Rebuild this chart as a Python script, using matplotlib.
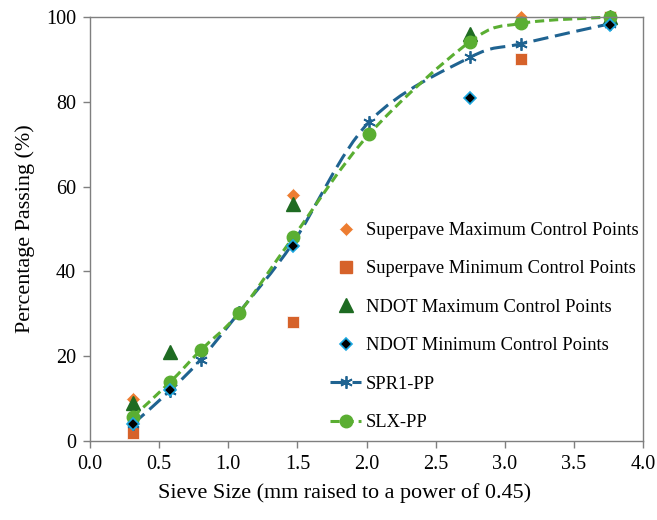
#!/usr/bin/env python3
"""
Gradation chart: percentage passing vs sieve size (mm^0.45) with
Superpave / NDOT control points and two smoothed mix gradations.
"""
import matplotlib
matplotlib.use("Agg")
import matplotlib.pyplot as plt
from matplotlib.lines import Line2D
from matplotlib.path import Path
from matplotlib.patches import PathPatch

plt.rcParams.update({
    "font.family": ["Liberation Serif", "DejaVu Serif"],
    "font.size": 14,
    "axes.linewidth": 1.0,
})

# ---- data ----
sp_max_x = [0.31, 1.47, 3.12, 3.76]
sp_max_y = [10, 58, 100, 100]
sp_min_x = [0.31, 1.47, 3.12, 3.76]
sp_min_y = [2, 28, 90, 100]
ndot_max_x = [0.31, 0.58, 1.47, 2.75, 3.76]
ndot_max_y = [9, 21, 56, 96, 100]
ndot_min_x = [0.31, 0.58, 1.47, 2.75, 3.76]
ndot_min_y = [4, 12, 46, 81, 98]
sieve_x = [0.31, 0.58, 0.80, 1.08, 1.47, 2.02, 2.75, 3.12, 3.76]
spr1_y = [4.0, 11.9, 19.2, 30.4, 46.8, 75.3, 90.5, 93.7, 98.4]
slx_y = [5.7, 13.9, 21.4, 30.3, 48.1, 72.4, 94.2, 98.5, 100]

x_ticks = [0.0, 0.5, 1.0, 1.5, 2.0, 2.5, 3.0, 3.5, 4.0]
y_ticks = [0, 20, 40, 60, 80, 100]

C_SP_MAX = "#ED7D31"
C_SP_MIN = "#D6622A"
C_NDOT_MAX = "#1E6B22"
C_NDOT_MIN_EDGE = "#1BA7E0"
C_SPR1 = "#1F6391"
C_SLX = "#5AAE32"


def smooth_path(xs, ys):
    """Excel-style smoothed line as cubic Bezier segments (Catmull-Rom)."""
    pts = list(zip(xs, ys))
    n = len(pts)
    verts = [pts[0]]
    codes = [Path.MOVETO]
    for i in range(n - 1):
        p0 = pts[i - 1] if i > 0 else pts[i]
        p1 = pts[i]
        p2 = pts[i + 1]
        p3 = pts[i + 2] if i + 2 < n else pts[i + 1]
        c1 = (p1[0] + (p2[0] - p0[0]) / 6, p1[1] + (p2[1] - p0[1]) / 6)
        c2 = (p2[0] - (p3[0] - p1[0]) / 6, p2[1] - (p3[1] - p1[1]) / 6)
        verts += [c1, c2, p2]
        codes += [Path.CURVE4] * 3
    return Path(verts, codes)


fig = plt.figure(figsize=(6.57, 5.2), dpi=100)
ax = fig.add_axes([90 / 657, 1 - 441 / 520, 553 / 657, 424 / 520])

# smoothed gradation lines
spr1_dash = (0, (5, 2.2))
slx_dash = (0, (3, 1.6))
ax.add_patch(PathPatch(smooth_path(sieve_x, spr1_y), fill=False, edgecolor=C_SPR1,
                       lw=2.2, linestyle=spr1_dash, zorder=2, clip_on=False))
ax.add_patch(PathPatch(smooth_path(sieve_x, slx_y), fill=False, edgecolor=C_SLX,
                       lw=2.2, linestyle=slx_dash, zorder=2.1, clip_on=False))
ax.plot(sieve_x, spr1_y, ls="none", marker=(6, 2, 0), ms=9, mew=1.3,
        color=C_SPR1, zorder=2.2, clip_on=False)
ax.plot(sieve_x, slx_y, ls="none", marker="o", ms=9, color=C_SLX,
        mec=C_SLX, zorder=2.3, clip_on=False)

# control points
ax.plot(sp_max_x, sp_max_y, ls="none", marker="D", ms=7, color=C_SP_MAX,
        mec="white", mew=0.5, zorder=1.5, clip_on=False)
ax.plot(sp_min_x, sp_min_y, ls="none", marker="s", ms=8, color=C_SP_MIN,
        mec="white", mew=0.5, zorder=1.6, clip_on=False)
ax.plot(ndot_max_x, ndot_max_y, ls="none", marker="^", ms=10, color=C_NDOT_MAX,
        zorder=1.7, clip_on=False)
ax.plot(ndot_min_x, ndot_min_y, ls="none", marker="D", ms=6, color="black",
        mec=C_NDOT_MIN_EDGE, mew=1.2, zorder=3, clip_on=False)

ax.set_xlim(0, 4.0)
ax.set_ylim(0, 100)
ax.set_xticks(x_ticks)
ax.set_xticklabels([f"{v:.1f}" for v in x_ticks])
ax.set_yticks(y_ticks)
ax.tick_params(direction="out", length=5, width=1.0, color="#7f7f7f",
               labelsize=14.5, pad=5)
for s in ax.spines.values():
    s.set_color("#7f7f7f")

ax.set_xlabel("Sieve Size (mm raised to a power of 0.45)", fontsize=15.9)
ax.xaxis.set_label_coords((345 - 90) / 553, -42 / 424)
ax.set_ylabel("Percentage Passing (%)", fontsize=15.9, labelpad=8)

handles = [
    Line2D([], [], ls="none", marker="D", ms=7, color=C_SP_MAX, mec="white", mew=0.5),
    Line2D([], [], ls="none", marker="s", ms=8, color=C_SP_MIN),
    Line2D([], [], ls="none", marker="^", ms=10, color=C_NDOT_MAX),
    Line2D([], [], ls="none", marker="D", ms=6, color="black",
           mec=C_NDOT_MIN_EDGE, mew=1.2),
    Line2D([], [], ls=spr1_dash, lw=2.2, marker=(6, 2, 0), ms=9, mew=1.3, color=C_SPR1),
    Line2D([], [], ls=slx_dash, lw=2.2, marker="o", ms=9, color=C_SLX),
]
labels = [
    "Superpave Maximum Control Points",
    "Superpave Minimum Control Points",
    "NDOT Maximum Control Points",
    "NDOT Minimum Control Points",
    "SPR1-PP",
    "SLX-PP",
]
leg = ax.legend(handles, labels, loc="upper left", frameon=False,
                bbox_to_anchor=(330 / 657, 1 - 222 / 520),
                bbox_transform=fig.transFigure, fontsize=13.3,
                handlelength=1.7, handletextpad=0.25, labelspacing=1.16,
                borderpad=0, borderaxespad=0)

fig.savefig("out.png", dpi=100)
